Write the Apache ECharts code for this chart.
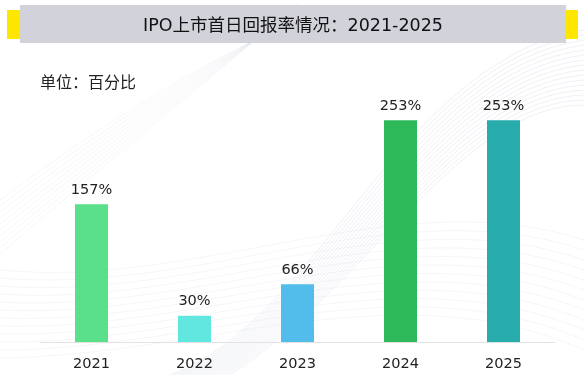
<!DOCTYPE html>
<html>
<head>
<meta charset="utf-8">
<script src="https://cdn.jsdelivr.net/npm/echarts@6/dist/echarts.min.js"></script>
<style>
html, body { margin: 0; padding: 0; background: #fff; }
#main { width: 584px; height: 375px; }
</style>
</head>
<body>
<div id="main"></div>
<script>
var years = ['2021', '2022', '2023', '2024', '2025'];
var returns = [157, 30, 66, 253, 253];
var barColors = ['#5ae08a', '#61e6e0', '#52bdeb', '#2db85a', '#27abab'];

var font = '"DejaVu Sans", "Noto Sans CJK SC", sans-serif';

// faint background swoosh lines
var deco = [];
for (var i = 0; i < 16; i++) {
    deco.push({
        type: 'bezierCurve',
        silent: true,
        z: -10,
        shape: {
            x1: 170 + i * 4, y1: 375,
            x2: 584, y2: 30 + i * 5,
            cpx1: 320 + i * 3, cpy1: 320 - i * 2,
            cpx2: 400 + i * 4, cpy2: 60 + i * 3
        },
        style: { stroke: 'rgba(200,205,222,0.3)', lineWidth: 1, fill: null }
    });
}
for (var j = 0; j < 12; j++) {
    deco.push({
        type: 'bezierCurve',
        silent: true,
        z: -10,
        shape: {
            x1: 0, y1: 270 + j * 8,
            x2: 584, y2: 240 + j * 10,
            cpx1: 200, cpy1: 290 + j * 6,
            cpx2: 400, cpy2: 180 + j * 8
        },
        style: { stroke: 'rgba(210,214,226,0.22)', lineWidth: 1, fill: null }
    });
}
for (var k = 0; k < 10; k++) {
    deco.push({
        type: 'bezierCurve',
        silent: true,
        z: -10,
        shape: {
            x1: 0, y1: 200 + k * 6,
            x2: 300, y2: 20 - k * 2,
            cpx1: 80, cpy1: 140 + k * 5,
            cpx2: 200, cpy2: 60 + k * 3
        },
        style: { stroke: 'rgba(210,214,226,0.2)', lineWidth: 1, fill: null }
    });
}

var chart = echarts.init(document.getElementById('main'));
chart.setOption({
    animation: false,
    backgroundColor: '#ffffff',
    graphic: deco.concat([
        { type: 'rect', left: 7, top: 10, shape: { width: 13, height: 29 }, style: { fill: '#ffe600' } },
        { type: 'rect', left: 566, top: 10, shape: { width: 12, height: 29 }, style: { fill: '#ffe600' } },
        { type: 'rect', left: 20, top: 5, shape: { width: 546, height: 38 }, style: { fill: '#d1d2da' } },
        {
            type: 'text', x: 293, y: 26,
            style: {
                text: 'IPO上市首日回报率情况：2021-2025',
                fill: '#111', font: '17.5px ' + font,
                textAlign: 'center', textVerticalAlign: 'middle'
            }
        },
        {
            type: 'text', x: 40, y: 84,
            style: {
                text: '单位：百分比',
                fill: '#222', font: '16px ' + font,
                textVerticalAlign: 'middle'
            }
        }
    ]),
    grid: { left: 40, right: 29, top: 79, bottom: 33 },
    xAxis: {
        type: 'category',
        data: years,
        axisLine: { lineStyle: { color: '#e2e2e2', width: 1 } },
        axisTick: { show: false },
        axisLabel: { color: '#222', fontSize: 14.5, fontFamily: font, margin: 15 }
    },
    yAxis: {
        type: 'value',
        min: 0,
        max: 300,
        show: false
    },
    series: [{
        type: 'bar',
        data: returns.map(function (v, n) {
            return { value: v, itemStyle: { color: barColors[n] } };
        }),
        barWidth: 33,
        label: {
            show: true,
            position: 'top',
            distance: 7,
            formatter: '{c}%',
            color: '#222',
            fontSize: 14.5,
            fontFamily: font
        }
    }]
});
</script>
</body>
</html>
